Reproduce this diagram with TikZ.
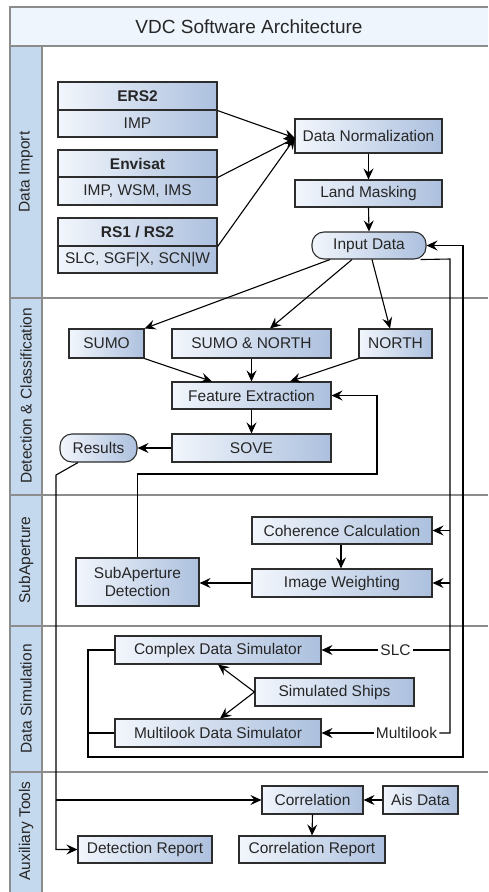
\documentclass[tikz,border=0pt]{standalone}
\usepackage{fontspec}
\setmainfont{Liberation Sans}
\usetikzlibrary{arrows.meta,calc}
\definecolor{boxL}{RGB}{242,246,252}
\definecolor{boxR}{RGB}{172,192,222}
\definecolor{titleF}{RGB}{238,245,252}
\definecolor{laneF}{RGB}{197,217,238}
\definecolor{frameC}{RGB}{140,140,140}
\definecolor{boxC}{RGB}{45,45,45}
\begin{document}
\begin{tikzpicture}[x=1pt,y=-1pt,
  box/.style={draw=boxC,line width=1.1pt,left color=boxL,right color=boxR,inner sep=0pt,font=\fontsize{15.5}{18}\selectfont,align=center,text=black!85},
  term/.style={box,rounded corners=12pt},
  conn/.style={line width=1.1pt,-{Stealth[length=11pt,width=10pt,inset=4pt]}},
  wire/.style={line width=1.1pt},
  lbl/.style={font=\fontsize{15.5}{18}\selectfont,inner sep=2pt,text=black!85},
  lanetxt/.style={rotate=90,font=\fontsize{15.5}{18}\selectfont,text=black!85}
]
\useasboundingbox (0,0) rectangle (488,892);
\fill[white] (0,0) rectangle (488,892);
% frame, title and lanes
\fill[titleF] (10,7) rectangle (488,46);
\fill[laneF] (10,46) rectangle (42,892);
\draw[frameC,line width=1.5pt] (488,7) -- (10,7) -- (10,892);
\draw[frameC,line width=1.5pt] (42,46) -- (42,892);
\foreach \yy in {46,298,495,626,772} {\draw[frameC,line width=1.5pt] (10,\yy) -- (488,\yy);}
\node[font=\fontsize{19}{22}\selectfont,text=black!85] (title) at (249,27) {VDC Software Architecture};
\node[lanetxt] (l1) at (26,172) {Data Import};
\node[lanetxt] (l2) at (26,396) {Detection \& Classification};
\node[lanetxt] (l3) at (26,560) {SubAperture};
\node[lanetxt] (l4) at (26,699) {Data Simulation};
\node[lanetxt] (l5) at (26,831) {Auxiliary Tools};

% Data import
\node[box,minimum width=159,minimum height=28] (ersh) at (137.5,96) {\textbf{ERS2}};
\node[box,minimum width=159,minimum height=27] (erss) at (137.5,123.5) {IMP};
\node[box,minimum width=159,minimum height=27] (envh) at (137.5,163.5) {\textbf{Envisat}};
\node[box,minimum width=159,minimum height=28] (envs) at (137.5,191) {IMP, WSM, IMS};
\node[box,minimum width=159,minimum height=28] (rsh) at (137.5,232) {\textbf{RS1 / RS2}};
\node[box,minimum width=159,minimum height=27] (rss) at (137.5,259.5) {SLC, SGF|X, SCN|W};
\node[box,minimum width=147,minimum height=34] (dn) at (368.5,136) {Data Normalization};
\node[box,minimum width=147,minimum height=27] (lm) at (368.5,193.5) {Land Masking};
\node[term,minimum width=114,minimum height=27] (id) at (369,245.5) {Input Data};

% Detection & classification
\node[box,minimum width=75,minimum height=29] (sumo) at (106.5,343.5) {SUMO};
\node[box,minimum width=159,minimum height=29] (sn) at (251.5,343.5) {SUMO \& NORTH};
\node[box,minimum width=73,minimum height=29] (north) at (395.5,343.5) {NORTH};
\node[box,minimum width=159,minimum height=27] (fe) at (251.5,395.5) {Feature Extraction};
\node[box,minimum width=159,minimum height=28] (sove) at (251.5,448) {SOVE};
\node[term,minimum width=77,minimum height=28] (res) at (98.5,448) {Results};

% SubAperture
\node[box,minimum width=180,minimum height=27] (cc) at (342,530.5) {Coherence Calculation};
\node[box,minimum width=180,minimum height=28] (iw) at (342,583) {Image Weighting};
\node[box,minimum width=123,minimum height=48] (sad) at (137.5,582) {SubAperture\\Detection};

% Data simulation
\node[box,minimum width=206,minimum height=28] (cds) at (218,650) {Complex Data Simulator};
\node[box,minimum width=206,minimum height=28] (mds) at (218,733) {Multilook Data Simulator};
\node[box,minimum width=159,minimum height=28] (ss) at (334.5,692) {Simulated Ships};
\node[lbl] (slc) at (395.5,650) {SLC};
\node[lbl] (ml) at (406.5,733) {Multilook};

% Auxiliary tools
\node[box,minimum width=101,minimum height=28] (corr) at (312.5,800) {Correlation};
\node[box,minimum width=75,minimum height=28] (ais) at (420.5,800) {Ais Data};
\node[box,minimum width=146,minimum height=27] (cr) at (312,849.5) {Correlation Report};
\node[box,minimum width=134,minimum height=27] (dr) at (145,849.5) {Detection Report};

% junction coordinates
\coordinate (dnin) at (295,138);
\coordinate (fb) at (377,474);
\coordinate (b1) at (450,259);
\coordinate (b2) at (463,757);
\coordinate (b3) at (88,757);
\coordinate (j1) at (56,475);

% connectors: data import
\draw[conn] (ersh.south east) -- (dnin);
\draw[conn] (envh.south east) -- (dnin);
\draw[conn] (rsh.south east) -- (dnin);
\draw[conn] (dn.south) -- (lm.north);
\draw[conn] (lm.south) -- (id.north);

% detection
\draw[conn] ([xshift=-39]id.south) -- (sumo.north east);
\draw[conn] ([xshift=-17]id.south) -- ([xshift=18.5]sn.north);
\draw[conn] ([xshift=3]id.south) -- ([xshift=-5.5]north.north);
\draw[conn] (sumo.south east) -- ([xshift=-39.5]fe.north);
\draw[conn] (sn.south) -- (fe.north);
\draw[conn] (north.south west) -- ([xshift=38.5]fe.north);
\draw[conn] (fe.south) -- (sove.north);
\draw[conn] (sove.west) -- (res.east);

% results to auxiliary tools
\draw[conn] ([xshift=-20.5]res.south) -- (j1) -- (j1 |- dr.west) -- (dr.west);
\draw[conn] (j1 |- corr.west) -- (corr.west);

% subaperture
\draw[conn] (sad.north) -- (sad.north |- fb) -- (fb) |- (fe.east);
\draw[conn] ([xshift=-1]cc.south) -- ([xshift=-1]iw.north);
\draw[conn] (iw.west) -- (iw.west -| sad.east);

% bus from input data
\draw[wire] ([xshift=-6]id.south east) -- (b1) -- (b1 |- ml.east) -- (ml.east);
\draw[conn] (b1 |- cc.east) -- (cc.east);
\draw[conn] (b1 |- iw.east) -- (iw.east);
\draw[wire] (b1 |- slc.east) -- (slc.east);
\draw[conn] (slc.west) -- (cds.east);
\draw[conn] (ml.west) -- (mds.east);

% simulators back to input data
\draw[conn] (cds.west) -- (cds.west -| b3) -- (b3) -- (b2) |- (id.east);
\draw[wire] (mds.west) -- (mds.west -| b3);
\draw[conn] (ss.west) -- (cds.south);
\draw[conn] (ss.west) -- ([xshift=2]mds.north);

% auxiliary
\draw[conn] (ais.west) -- (corr.east);
\draw[conn] (corr.south) -- (cr.north);
\end{tikzpicture}
\end{document}
